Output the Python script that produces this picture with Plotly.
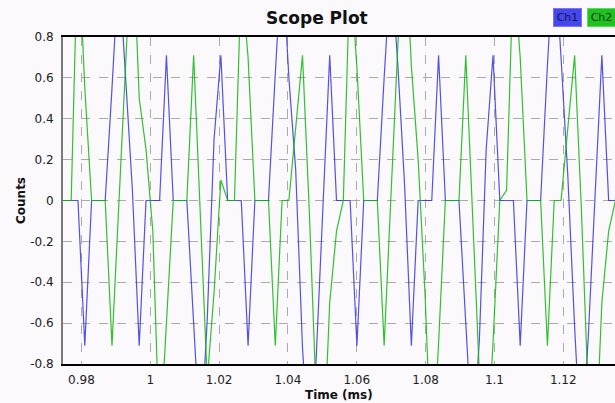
import plotly.graph_objects as go

# ---------------- data ----------------
t_start = 0.973073     # ms, time of first sample
dt = 0.0019767         # ms between samples

ch1 = [0, 0, 0, 0,
       -0.71, 0, 0, 0, 0.55, 1.15, 0.6, 0.05, -0.71, 0, 0, 0, 0.71, 0, 0, 0,
       -0.6, -1.2, -0.58, 0.3, 0.71, 0, 0, 0, -0.71, 0, 0, 0, 0.62, 1.2, 0.6, 0.15,
       -0.72, -1.25, -0.78, 0, 0.71, 0, 0, 0,
       -0.71, 0, 0, 0, 0.6, 1.15, 0.67, 0.08, -0.71, 0, 0, 0, 0.71, 0, 0, 0,
       -0.6, -1.2, -0.68, 0.25, 0.71, 0, 0, 0, -0.71, 0, 0, 0, 0.66, 1.25, 0.7, 0.12,
       -0.62, -1.25, -0.67, 0, 0.71, 0, 0, 0]

ch2 = [0, 0, 0, 1.3,
       0.55, 0, 0, 0, -0.71, 0, 0.65, 1.35, 0.5, 0.25, -0.15, -1.2, -0.6, 0, 0, 0,
       0.71, -0.05, -0.88, -0.45, 0.1, 0, 0, 1.1, 0.7, 0, 0, 0, -0.71, 0, 0, 0.35,
       0.71, -0.05, -0.95, -1.3, -0.5, -0.15, 0, 1.15,
       0.65, 0, 0, 0, -0.71, 0, 0.75, 1.35, 0.66, 0.2, -0.45, -1.3, -0.7, 0, 0, 0,
       0.71, -0.05, -0.85, -1.3, -0.7, 0, 0.05, 1.15, 0.7, 0, 0, 0, -0.71, 0, 0, 0.35,
       0.71, -0.05, -0.95, -1.3, -0.5, -0.15, 0, 1.2]

time_ms = [round(t_start + i * dt, 7) for i in range(len(ch1))]

x_tick_vals = [0.98, 1.0, 1.02, 1.04, 1.06, 1.08, 1.1, 1.12]
x_tick_text = ["0.98", "1", "1.02", "1.04", "1.06", "1.08", "1.1", "1.12"]
y_tick_vals = [0.8, 0.6, 0.4, 0.2, 0, -0.2, -0.4, -0.6, -0.8]
y_tick_text = ["0.8", "0.6", "0.4", "0.2", "0", "-0.2", "-0.4", "-0.6", "-0.8"]

series_names = ["Ch1", "Ch2"]

# ---------------- figure ----------------
FONT = "DejaVu Sans"
BG = "#fcf9fc"
C1 = "rgba(45,45,220,0.82)"
C2 = "rgba(10,185,10,0.85)"

fig = go.Figure()
fig.add_trace(go.Scatter(x=time_ms, y=ch1, mode="lines", name=series_names[0],
                         line=dict(color=C1, width=1.2)))
fig.add_trace(go.Scatter(x=time_ms, y=ch2, mode="lines", name=series_names[1],
                         line=dict(color=C2, width=1.2)))

fig.update_layout(
    width=615, height=403,
    margin=dict(l=63, r=0, t=37, b=39),
    paper_bgcolor=BG, plot_bgcolor=BG,
    showlegend=False,
    font=dict(family=FONT, size=12, color="#202020"),
)
fig.update_xaxes(
    range=[0.97465, 1.13503], tickvals=x_tick_vals, ticktext=x_tick_text,
    showgrid=True, gridcolor="#ababab", griddash="dash", gridwidth=1,
    zeroline=False, showline=True, linecolor="#000000", linewidth=1.5, mirror=True,
    ticks="", ticklabelstandoff=4, tickfont=dict(size=12, family=FONT),
)
fig.update_yaxes(
    range=[-0.8, 0.8], tickvals=y_tick_vals, ticktext=y_tick_text,
    showgrid=True, gridcolor="#ababab", griddash="dash", gridwidth=1,
    zeroline=False, showline=True, linecolor="#7a7a7a", linewidth=2, mirror=False,
    ticks="", ticklabelstandoff=5, tickfont=dict(size=12, family=FONT),
)

W, H = 552.0, 327.0  # plot area size in px
def px(x):
    return (x - 63) / W
def py(y):
    return (364 - y) / H

def label(text, x, y, size, angle=0, **kw):
    fig.add_annotation(text=text, x=px(x), y=py(y), xref="paper", yref="paper",
                       xanchor="center", yanchor="middle", showarrow=False,
                       textangle=angle, font=dict(family=FONT, size=size,
                                                  color=kw.pop("color", "#111111")), **kw)

label("<b>Scope Plot</b>", 317, 18, 17)
label("<b>Counts</b>", 21, 201, 12, angle=-90)
label("<b>Time (ms)</b>", 339, 395, 12)
label(series_names[0], 567.5, 18, 11, color="#15154a", bgcolor="#4646ee",
      bordercolor="#7878f0", borderwidth=1, width=27, height=17, borderpad=0)
label(series_names[1], 601.5, 18, 11, color="#0a300a", bgcolor="#1ec41e",
      bordercolor="#60d860", borderwidth=1, width=27, height=17, borderpad=0)

fig.write_html("out.html")
